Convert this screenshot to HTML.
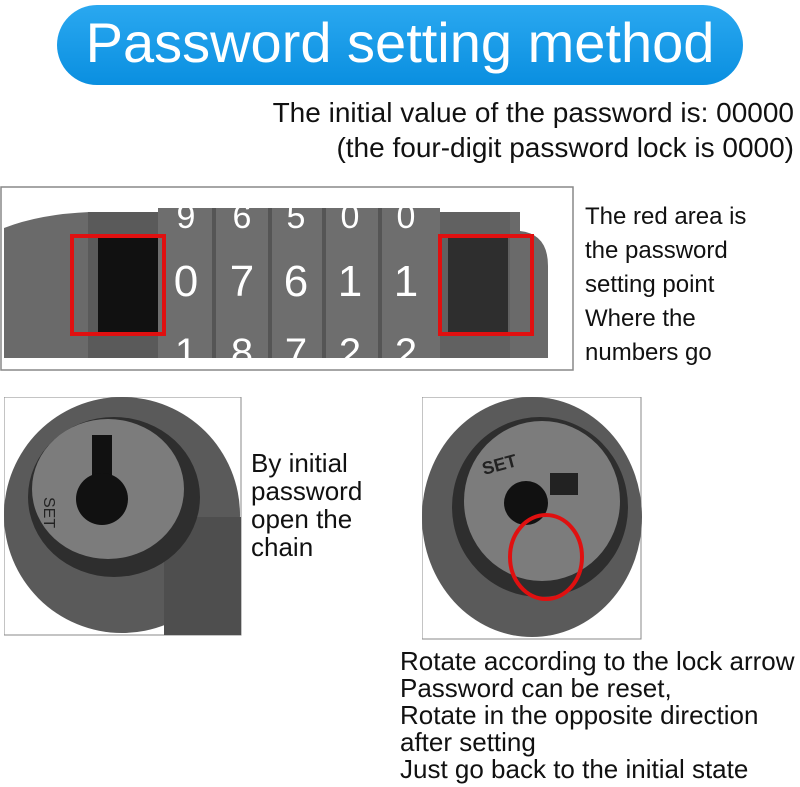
<!DOCTYPE html>
<html><head><style>
body{margin:0;width:800px;height:787px;background:#fff;position:relative;overflow:hidden;font-family:"Liberation Sans",sans-serif;color:#111}
.t{position:absolute;font-size:24px;line-height:28px;white-space:nowrap}
</style></head><body>
<div style="position:absolute;left:57px;top:5px;width:686px;height:80px;border-radius:40px;background:linear-gradient(#2aa8f0,#0a8fe0);"></div>
<div style="position:absolute;left:57px;top:10px;width:686px;text-align:center;color:#fff;font-size:56px;line-height:66px">Password setting method</div>
<div class="t" style="right:6px;top:97px;text-align:right;font-size:28px;line-height:32px">The initial value of the password is: 00000</div>
<div class="t" style="right:6px;top:132px;text-align:right;font-size:28px;line-height:32px">(the four-digit password lock is 0000)</div>

<svg style="position:absolute;left:0;top:186px" width="575" height="186">
<rect x="1" y="1" width="572" height="183" fill="#fff" stroke="#888" stroke-width="1.5"/>
<path d="M4 42 Q40 28 90 26 L520 26 L520 45 Q548 48 548 80 L548 172 L4 172 Z" fill="#6a6a6a"/>
<rect x="88" y="26" width="70" height="146" fill="#5a5a5a"/>
<rect x="158" y="22" width="282" height="150" fill="#6e6e6e"/>
<g fill="#555"><rect x="212" y="22" width="4" height="150"/><rect x="268" y="22" width="4" height="150"/><rect x="322" y="22" width="4" height="150"/><rect x="378" y="22" width="4" height="150"/></g>
<rect x="98" y="52" width="60" height="96" fill="#111"/>
<rect x="448" y="52" width="60" height="96" fill="#151515"/>
<rect x="440" y="26" width="70" height="146" fill="#555" opacity=".4"/>
<g fill="#fff" font-size="34" font-family="Liberation Sans" text-anchor="middle">
<text x="186" y="42">9</text><text x="242" y="42">6</text><text x="296" y="42">5</text><text x="350" y="42">0</text><text x="406" y="42">0</text>
<text x="186" y="110" font-size="44">0</text><text x="242" y="110" font-size="44">7</text><text x="296" y="110" font-size="44">6</text><text x="350" y="110" font-size="44">1</text><text x="406" y="110" font-size="44">1</text>
<text x="186" y="180" font-size="40">1</text><text x="242" y="180" font-size="40">8</text><text x="296" y="180" font-size="40">7</text><text x="350" y="180" font-size="40">2</text><text x="406" y="180" font-size="40">2</text>
</g>
<rect x="72" y="50" width="92" height="98" fill="none" stroke="#e01010" stroke-width="4"/>
<rect x="440" y="50" width="92" height="98" fill="none" stroke="#e01010" stroke-width="4"/>
</svg>
<div class="t" style="left:585px;top:200px;line-height:34px">The red area is<br>the password<br>setting point<br>Where the<br>numbers go</div>

<svg style="position:absolute;left:4px;top:397px" width="238" height="240">
<rect x="0" y="0" width="237" height="238" fill="#fff" stroke="#888"/>
<ellipse cx="118" cy="118" rx="118" ry="118" fill="#5a5a5a"/>
<rect x="160" y="120" width="77" height="118" fill="#4e4e4e"/>
<ellipse cx="110" cy="100" rx="86" ry="80" fill="#2e2e2e"/>
<ellipse cx="104" cy="92" rx="76" ry="70" fill="#7c7c7c"/>
<rect x="88" y="38" width="20" height="60" fill="#111"/>
<circle cx="98" cy="102" r="26" fill="#111"/>
<text x="40" y="100" font-size="16" fill="#222" transform="rotate(90 40 100)" font-family="Liberation Sans">SET</text>
</svg>
<div class="t" style="left:251px;top:449px;font-size:26px;line-height:28px">By initial<br>password<br>open the<br>chain</div>

<svg style="position:absolute;left:422px;top:397px" width="220" height="244">
<rect x="0" y="0" width="219" height="242" fill="#fff" stroke="#888"/>
<ellipse cx="110" cy="120" rx="110" ry="120" fill="#5a5a5a"/>
<ellipse cx="118" cy="110" rx="88" ry="90" fill="#2e2e2e"/>
<ellipse cx="120" cy="104" rx="78" ry="80" fill="#7c7c7c"/>
<circle cx="104" cy="106" r="22" fill="#111"/>
<rect x="128" y="76" width="28" height="22" fill="#222"/>
<text x="62" y="78" font-size="18" fill="#222" font-weight="bold" font-family="Liberation Sans" transform="rotate(-15 62 78)">SET</text>
<ellipse cx="124" cy="160" rx="36" ry="42" fill="none" stroke="#e01010" stroke-width="4"/>
</svg>
<div class="t" style="left:400px;top:648px;line-height:27px;font-size:26px">Rotate according to the lock arrow<br>Password can be reset,<br>Rotate in the opposite direction<br>after setting<br>Just go back to the initial state</div>
</body></html>
